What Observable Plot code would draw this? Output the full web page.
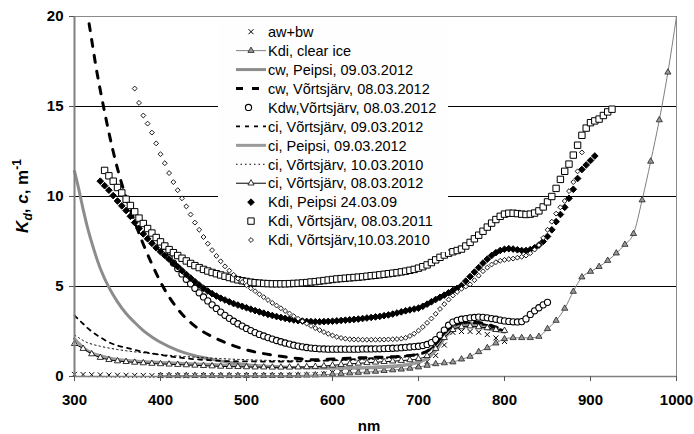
<!DOCTYPE html>
<html><head><meta charset="utf-8">
<script src="https://cdn.jsdelivr.net/npm/d3@7"></script>
<script src="https://cdn.jsdelivr.net/npm/@observablehq/plot@0.6"></script>
<style>
body{margin:0;background:#fff;font-family:"Liberation Sans",Arial,sans-serif;}
#chart{position:relative;width:694px;height:434px;}
#legend{position:absolute;left:218px;top:20px;width:230px;height:232px;background:#fefefe;z-index:5;}
#legend svg{display:block;}
</style></head><body><div id="chart"><div id="legend"></div></div>
<script>
// ---------- data (wavelength nm, values m^-1) ----------
const xTicks = [300, 400, 500, 600, 700, 800, 900, 1000];
const yTicks = [0, 5, 10, 15, 20];
const gridLines = [5, 10, 15];
// horizontal extent (nm) hidden behind the legend box for grid lines 10 and 15
const legendSpanNm = [467.4, 734.9];

const legendLabels = [
  "aw+bw", "Kdi, clear ice", "cw, Peipsi, 09.03.2012", "cw, Võrtsjärv, 08.03.2012",
  "Kdw,Võrtsjärv, 08.03.2012", "ci, Võrtsjärv, 09.03.2012", "ci, Peipsi, 09.03.2012",
  "ci, Võrtsjärv, 10.03.2010", "ci, Võrtsjärv, 08.03.2012", "Kdi, Peipsi 24.03.09",
  "Kdi, Võrtsjärv, 08.03.2011", "Kdi, Võrtsjärv,10.03.2010"
];

// aw+bw, 300..800 every 10 nm
const awbwWl = d3.range(300, 801, 10);
const awbw = [0.12,0.11,0.10,0.09,0.08,0.07,0.07,0.06,0.06,0.05,
  0.05,0.05,0.05,0.05,0.05,0.05,0.05,0.05,0.05,0.05,
  0.06,0.06,0.06,0.06,0.06,0.07,0.08,0.09,0.10,0.14,
  0.23,0.27,0.29,0.31,0.33,0.35,0.41,0.43,0.46,0.52,
  0.65,0.83,1.17,1.75,2.45,2.50,2.50,2.46,2.33,2.14,
  1.95];

// Kdi clear ice, 400..1000 every 10 nm
const clearIceWl = d3.range(400, 1001, 10);
const clearIce = [0.05,0.05,0.05,0.05,0.05,0.05,0.05,0.05,0.05,0.05,0.05,0.05,0.05,0.05,0.05,0.05,
  0.06,0.07,0.08,0.10,
  0.13,0.16,0.19,0.22,0.25,0.28,0.32,0.36,0.40,0.45,
  0.52,0.61,0.70,0.75,0.80,0.96,1.11,1.37,1.59,1.85,
  2.09,2.15,2.15,2.15,2.22,2.65,3.11,3.78,4.72,5.52,
  5.83,6.10,6.44,6.85,7.33,7.93,9.80,11.95,14.25,16.90,
  20.0];

// line series wavelengths
const lineWl = [300,305,310,315,320,330,340,350,360,370,380,390,400,420,440,460,480,500,520,540,560,580,600,620,640,660,680,700,710,720,730,740,750,760,770,780,790,800];
const cwPeipsi = [11.4,10.4,9.3,8.3,7.45, 6.0,4.95,4.15,3.5,3.0,2.55,2.2,1.9,
  1.45,1.15,0.95,0.78,0.66,0.58,0.53,0.5,0.48,0.47,0.47,0.48,0.52,0.6,0.8,
  1.0,1.45,2.15,2.7,2.9,2.95,2.92,2.82,2.68,2.52];
const ciPeipsi = [2.1,1.85,1.62,1.45,1.32, 1.15,1.03,0.95,0.9,0.86,0.83,0.8,0.78,
  0.74,0.7,0.66,0.62,0.58,0.55,0.52,0.5,0.48,0.47,0.48,0.5,0.55,0.62,0.8,
  1.0,1.45,2.1,2.6,2.75,2.78,2.75,2.65,2.55,2.45];
const ciV0903 = [3.4,3.15,2.93,2.7,2.5, 2.18,1.9,1.72,1.6,1.48,1.37,1.28,1.2,
  1.06,0.96,0.9,0.85,0.84,0.83,0.83,0.84,0.86,0.9,0.95,1.0,1.05,1.12,1.25,
  1.4,1.8,2.4,2.8,2.95,3.0,2.95,2.85,2.7,2.55];
const ciV1003 = [2.3,2.15,2.0,1.88,1.8, 1.68,1.58,1.5,1.43,1.37,1.32,1.27,1.22,
  1.14,1.07,1.02,0.97,0.93,0.9,0.88,0.87,0.87,0.88,0.9,0.93,0.98,1.05,1.2,
  1.35,1.75,2.35,2.75,2.9,2.95,2.9,2.8,2.65,2.5];

const cwVWl = [317,320,325,330,335,340,345,350,355,360,370,380,390,400,420,440,460,480,500,520,540,560,580,600,620,640,660,680,700,710,720,730,740,750,760,770,780,790,800];
const cwV = [19.6,18.7,17.2,15.9,14.7,13.55,12.5,11.55,10.7,9.95,8.6,7.35,6.25,5.25,
  3.75,2.8,2.22,1.8,1.48,1.27,1.12,1.0,0.93,0.97,1.02,1.05,1.08,1.12,1.25,
  1.4,1.8,2.4,2.85,3.0,3.05,3.0,2.9,2.75,2.6];

// ci Võrtsjärv 08.03.2012, 300..800 every 10 nm
const ciV0803Wl = d3.range(300, 801, 10);
const ciV0803 = [1.82,1.55,1.25,1.05,0.93,0.86,0.82,0.78,0.75,0.72,
  0.7,0.68,0.66,0.64,0.62,0.6,0.58,0.56,0.55,0.54,
  0.53,0.52,0.52,0.51,0.51,0.51,0.52,0.53,0.55,0.58,
  0.62,0.66,0.7,0.73,0.76,0.79,0.82,0.85,0.88,0.92,
  0.98,1.15,1.55,2.15,2.6,2.75,2.8,2.75,2.7,2.6,
  2.55];

// Kdw Võrtsjärv 08.03.2012, 400..850 every 5 nm
const kdwWl = d3.range(400, 851, 5);
const kdw = [7.2,6.9,6.6,6.3,6.0,5.7,5.4,5.15,4.9,4.65,
  4.42,4.2,3.98,3.78,3.58,3.4,3.23,3.07,2.93,2.8,
  2.67,2.55,2.44,2.34,2.25,2.16,2.08,2.0,1.93,1.86,
  1.8,1.74,1.69,1.65,1.61,1.58,1.56,1.54,1.53,1.52,
  1.52,1.52,1.52,1.52,1.52,1.52,1.52,1.53,1.53,1.53,
  1.54,1.54,1.55,1.56,1.57,1.58,1.6,1.62,1.64,1.66,
  1.68,1.72,1.78,1.88,2.05,2.3,2.58,2.85,3.02,3.12,
  3.18,3.22,3.26,3.28,3.3,3.29,3.26,3.22,3.18,3.13,
  3.09,3.06,3.04,3.03,3.05,3.2,3.45,3.65,3.82,3.98,
  4.12];

// Kdi Peipsi 24.03.09, 330..905 every 5 nm
const kdiPWl = d3.range(330, 906, 5);
const kdiP = [10.85,10.6,10.35,10.05,9.75,9.48,9.22,8.9,8.55,8.22,
  7.92,7.65,7.4,7.15,6.93,6.72,6.52,6.3,6.1,5.88,
  5.67,5.47,5.27,5.08,4.9,4.75,4.6,4.47,4.35,4.25,
  4.15,4.05,3.97,3.9,3.82,3.74,3.66,3.59,3.52,3.45,
  3.39,3.33,3.28,3.23,3.18,3.14,3.1,3.08,3.06,3.05,
  3.04,3.04,3.05,3.06,3.07,3.09,3.11,3.13,3.15,3.17,
  3.19,3.22,3.25,3.28,3.31,3.34,3.38,3.42,3.47,3.53,
  3.59,3.65,3.7,3.75,3.8,3.9,4.02,4.15,4.28,4.4,
  4.52,4.65,4.78,4.9,5.05,5.3,5.55,5.8,6.05,6.3,
  6.52,6.72,6.88,7.0,7.07,7.1,7.08,7.04,7.0,7.0,
  7.05,7.15,7.3,7.5,7.78,8.15,8.6,9.0,9.4,9.9,
  10.4,11.0,11.5,11.75,12.0,12.25];

// Kdi Võrtsjärv 08.03.2011, 335..925 every 5 nm
const kdiV11Wl = d3.range(335, 926, 5);
const kdiV11 = [11.45,11.15,10.85,10.5,10.2,9.85,9.5,9.15,8.8,8.5,
  8.22,7.97,7.72,7.48,7.25,7.05,6.88,6.72,6.57,6.42,
  6.28,6.16,6.05,5.95,5.86,5.78,5.71,5.64,5.57,5.5,
  5.43,5.37,5.32,5.28,5.24,5.21,5.19,5.17,5.16,5.15,
  5.15,5.15,5.15,5.16,5.17,5.18,5.2,5.22,5.25,5.27,
  5.3,5.33,5.36,5.39,5.42,5.44,5.46,5.48,5.5,5.52,
  5.54,5.57,5.6,5.62,5.65,5.68,5.71,5.74,5.77,5.81,
  5.85,5.9,5.95,6.02,6.1,6.2,6.33,6.48,6.62,6.75,
  6.85,6.93,7.0,7.08,7.25,7.45,7.65,7.85,8.07,8.3,
  8.52,8.72,8.9,9.02,9.07,9.07,9.05,9.02,9.0,9.02,
  9.08,9.2,9.42,9.7,10.0,10.45,10.95,11.4,11.8,12.3,
  12.85,13.4,13.8,14.1,14.2,14.3,14.5,14.7,14.85];

// Kdi Võrtsjärv 10.03.2010, 370..890 every 5 nm
const kdiV10Wl = d3.range(370, 891, 5);
const kdiV10 = [16.0,15.2,14.5,14.05,13.55,12.95,12.35,11.85,11.3,10.8,
  10.35,9.9,9.45,9.0,8.55,8.15,7.75,7.38,7.02,6.7,
  6.4,6.12,5.88,5.65,5.44,5.25,5.07,4.9,4.74,4.57,
  4.41,4.25,4.09,3.94,3.79,3.64,3.5,3.35,3.21,3.07,
  2.94,2.81,2.69,2.58,2.47,2.37,2.28,2.2,2.14,2.1,
  2.07,2.06,2.05,2.04,2.04,2.04,2.04,2.05,2.05,2.06,
  2.07,2.08,2.1,2.15,2.25,2.38,2.55,2.75,2.98,3.22,
  3.48,3.75,4.02,4.27,4.5,4.7,4.87,5.0,5.12,5.35,
  5.6,5.85,6.05,6.22,6.35,6.43,6.48,6.52,6.55,6.6,
  6.65,6.72,6.85,7.05,7.3,7.7,8.15,8.6,9.05,9.4,
  9.75,10.3,10.8,11.4,12.45];

// ---------- build tables ----------
const tbl = (wl, v) => wl.map((x, i) => ({x, y: v[i]}));
const T = {
  awbw: tbl(awbwWl, awbw), clearIce: tbl(clearIceWl, clearIce),
  cwPeipsi: tbl(lineWl, cwPeipsi), cwV: tbl(cwVWl, cwV), kdw: tbl(kdwWl, kdw),
  ciV0903: tbl(lineWl, ciV0903), ciPeipsi: tbl(lineWl, ciPeipsi), ciV1003: tbl(lineWl, ciV1003),
  ciV0803: tbl(ciV0803Wl, ciV0803), kdiP: tbl(kdiPWl, kdiP), kdiV11: tbl(kdiV11Wl, kdiV11), kdiV10: tbl(kdiV10Wl, kdiV10)
};

// grid segments: full line at 5, lines at 10 and 15 interrupted by the legend box
const gridSegs = [];
for (const g of gridLines) {
  if (g === 5) gridSegs.push({y: g, x1: 300, x2: 1000});
  else { gridSegs.push({y: g, x1: 300, x2: legendSpanNm[0]}); gridSegs.push({y: g, x1: legendSpanNm[1], x2: 1000}); }
}

// styles
const ST = {
  awbw: {symbol: "times", r: 2.4, fill: "none", stroke: "#000", sw: 1},
  clearIce: {line: "#808080", lw: 1, symbol: "triangle", r: 2.3, fill: "#999", stroke: "#222", sw: 0.8},
  cwPeipsi: {line: "#8c8c8c", lw: 3},
  cwV: {line: "#000", lw: 3, dash: "7,9"},
  kdw: {symbol: "circle", r: 3.1, fill: "#fff", stroke: "#000", sw: 1.1},
  ciV0903: {line: "#000", lw: 1.8, dash: "4,5"},
  ciPeipsi: {line: "#9a9a9a", lw: 3},
  ciV1003: {line: "#000", lw: 1, dash: "1.5,3"},
  ciV0803: {line: "#000", lw: 1, symbol: "triangle", r: 2.3, fill: "#fff", stroke: "#000", sw: 0.8},
  kdiP: {symbol: "diamond2", r: 3, fill: "#000", stroke: "#000", sw: 1},
  kdiV11: {symbol: "square", r: 3.6, fill: "#fff", stroke: "#000", sw: 1},
  kdiV10: {symbol: "diamond2", r: 2.2, fill: "#fff", stroke: "#000", sw: 0.9}
};
const order = ["awbw","clearIce","cwPeipsi","cwV","kdw","ciV0903","ciPeipsi","ciV1003","ciV0803","kdiP","kdiV11","kdiV10"];

const marks = [
  Plot.ruleY(gridSegs, {y: "y", x1: "x1", x2: "x2", stroke: "#000", strokeWidth: 1}),
  Plot.ruleY([20], {stroke: "#8a8a8a", strokeWidth: 1}),
  Plot.ruleX([1000], {stroke: "#8a8a8a", strokeWidth: 1}),
];
for (const k of order) {
  const s = ST[k], data = T[k];
  if (s.line) marks.push(Plot.line(data, {x: "x", y: "y", stroke: s.line, strokeWidth: s.lw, strokeDasharray: s.dash, curve: "monotone-x"}));
  if (s.symbol) {
    const d = k === "clearIce" ? data.filter(p => p.x < 1000) : data;
    marks.push(Plot.dot(d, {x: "x", y: "y", symbol: s.symbol, r: s.r, fill: s.fill, stroke: s.stroke, strokeWidth: s.sw}));
  }
}
marks.push(
  Plot.ruleX([300], {stroke: "#808080", strokeWidth: 2}),
  Plot.ruleY([0], {stroke: "#808080", strokeWidth: 1.5}),
  Plot.axisX({ticks: xTicks, tickSize: 5, tickPadding: 13, tickFormat: d => String(d), fontWeight: "bold", fontSize: 15, stroke: "#555", label: null}),
  Plot.axisY({ticks: yTicks, tickSize: 5, tickPadding: 6, tickFormat: d => String(d), fontWeight: "bold", fontSize: 15, stroke: "#555", label: null})
);

const FONT = "'Liberation Sans', Arial, sans-serif";
const svg = Plot.plot({
  width: 694, height: 434,
  marginLeft: 74, marginRight: 18, marginTop: 16, marginBottom: 58,
  x: {domain: [300, 1000]},
  y: {domain: [0, 20]},
  style: {fontFamily: FONT, color: "#000", background: "#fff", overflow: "visible"},
  marks
});
const chart = document.getElementById("chart");
chart.insertBefore(svg, chart.firstChild);

// ---------- axis titles ----------
const root = d3.select(svg);
const yl = root.append("text")
  .attr("transform", "translate(28,196) rotate(-90)")
  .style("text-anchor", "middle").style("font-size", "17px").style("font-weight", "bold")
  .style("fill", "#000").style("font-family", FONT);
yl.append("tspan").style("font-style", "italic").text("K");
yl.append("tspan").style("font-style", "italic").style("font-size", "12px").attr("dy", 4).text("d");
yl.append("tspan").attr("dy", -4).text(", ");
yl.append("tspan").style("font-style", "italic").text("c");
yl.append("tspan").text(", m");
yl.append("tspan").style("font-size", "12px").attr("dy", -7).text("-1");

root.append("text").attr("x", 369).attr("y", 431)
  .style("text-anchor", "middle").style("font-size", "15px").style("font-weight", "bold")
  .style("fill", "#000").style("font-family", FONT).text("nm");

// ---------- legend (overlay box, offset 218,20) ----------
const symMap = {times: d3.symbolTimes, triangle: d3.symbolTriangle, circle: d3.symbolCircle, square: d3.symbolSquare, diamond2: d3.symbolDiamond2};
const lg = d3.select("#legend").append("svg").attr("width", 230).attr("height", 232);
order.forEach((k, i) => {
  const s = ST[k];
  const y = 11.7 + i * 18.94;
  if (s.line) {
    lg.append("line").attr("x1", 18).attr("x2", 48).attr("y1", y).attr("y2", y)
      .attr("stroke", s.line).attr("stroke-width", s.lw).attr("stroke-dasharray", s.dash || null);
  }
  if (s.symbol) {
    lg.append("path").attr("d", d3.symbol(symMap[s.symbol], Math.PI * s.r * s.r)())
      .attr("transform", `translate(${k === "kdw" ? 30.5 : 33},${y})`)
      .attr("fill", s.fill).attr("stroke", s.stroke).attr("stroke-width", s.sw);
  }
  lg.append("text").attr("x", 50).attr("y", y).attr("dy", "0.36em")
    .attr("text-anchor", "start").attr("font-size", 14.5).attr("fill", "#000")
    .attr("font-family", FONT).text(legendLabels[i]);
});
</script></body></html>
